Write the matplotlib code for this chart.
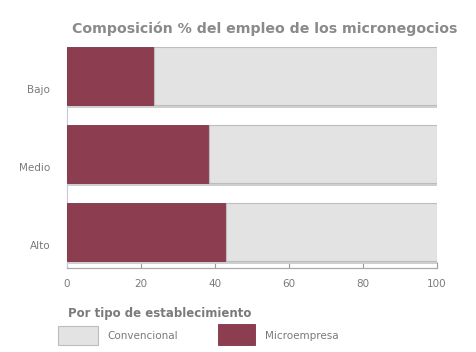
import matplotlib.pyplot as plt
from matplotlib.patches import Rectangle
import matplotlib.transforms as mtransforms

categorias = ["Bajo", "Medio", "Alto"]
microempresa = [23.5, 38.5, 43.0]
convencional = [76.5, 61.5, 57.0]
xticks = [0, 20, 40, 60, 80, 100]

c_micro = "#8c3e50"
c_conv = "#e3e3e3"
c_text = "#7a7a7a"

fig = plt.figure(figsize=(4.77, 3.52), dpi=100)
ax = fig.add_axes([0.14, 0.239, 0.776, 0.627])

ypos = list(range(len(categorias)))
h = 0.74
ax.barh(ypos, microempresa, height=h, color=c_micro, edgecolor="#7a3445", linewidth=0.6, zorder=3)
ax.barh(ypos, convencional, left=microempresa, height=h, color=c_conv,
        edgecolor="#bdbdbd", linewidth=0.8, zorder=3)
# sombra inferior de cada barra
ax.barh([y + h / 2 + 0.02 for y in ypos], [m + c for m, c in zip(microempresa, convencional)],
        height=0.05, color="#cfcfcf", zorder=2)

ax.set_xlim(0, 100)
ax.set_ylim(2.46, -0.37)
ax.set_xticks(xticks)
ax.set_xticklabels([str(t) for t in xticks], fontsize=7.5, color=c_text)
ax.tick_params(axis="x", direction="in", length=4, color="#999999", pad=8)
ax.set_yticks(ypos)
ax.set_yticklabels(categorias, fontsize=7.5, color=c_text)
ax.tick_params(axis="y", length=0, pad=12)
offset = mtransforms.ScaledTranslation(0, -0.13, fig.dpi_scale_trans)
for lbl in ax.get_yticklabels():
    lbl.set_transform(lbl.get_transform() + offset)

for s in ["top", "right"]:
    ax.spines[s].set_visible(False)
ax.spines["left"].set_color("#c8c8d8")
ax.spines["left"].set_linewidth(0.8)
ax.spines["bottom"].set_color("#aaaaaa")
ax.spines["bottom"].set_linewidth(0.9)

fig.text(0.151, 0.918, "Composición % del empleo de los micronegocios",
         fontsize=10.2, fontweight="bold", color="#8a8a8a", ha="left", va="center")

fig.text(0.143, 0.11, "Por tipo de establecimiento", fontsize=8.5,
         fontweight="bold", color=c_text, ha="left", va="center")

fig.patches.append(Rectangle((0.122, 0.02), 0.084, 0.055, transform=fig.transFigure,
                             facecolor=c_conv, edgecolor="#bdbdbd", linewidth=0.8))
fig.text(0.225, 0.045, "Convencional", fontsize=7.5, color=c_text, ha="left", va="center")
fig.patches.append(Rectangle((0.457, 0.02), 0.077, 0.06, transform=fig.transFigure,
                             facecolor=c_micro, edgecolor="#7a3445", linewidth=0.6))
fig.text(0.555, 0.045, "Microempresa", fontsize=7.5, color=c_text, ha="left", va="center")

fig.savefig("out.png", dpi=100)
